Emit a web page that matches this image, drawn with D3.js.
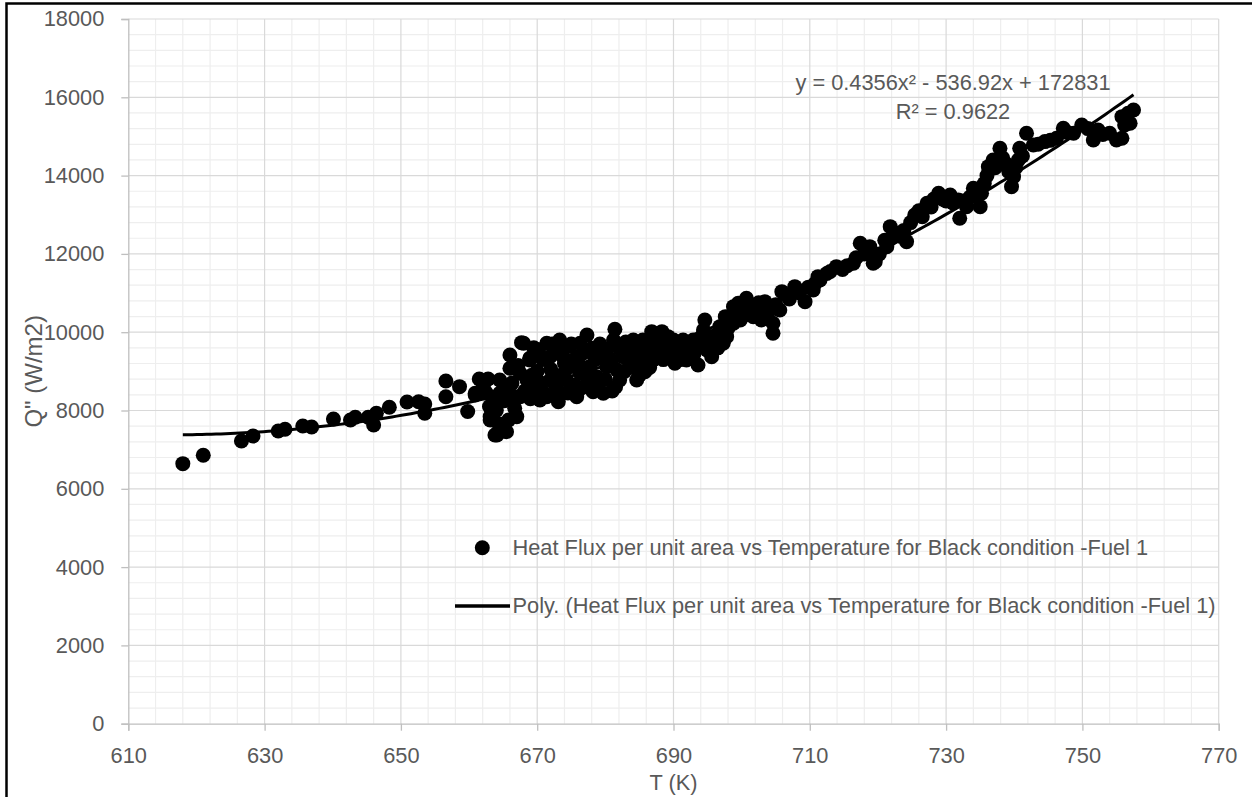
<!DOCTYPE html>
<html>
<head>
<meta charset="utf-8">
<script src="https://cdn.jsdelivr.net/npm/d3@7"></script>
<style>
  html, body { margin: 0; padding: 0; background: #fff; }
  svg { display: block; }
  text { font-family: "Liberation Sans", Arial, sans-serif; fill: #595959; }
</style>
</head>
<body>
<svg id="chart" width="1252" height="797"></svg>
<script>
// Measured temperature (K) and heat flux per unit area (W/m2), Black condition, Fuel 1
const tempK = [
  618.0, 621.0, 626.6, 628.3, 632.0, 633.0, 635.6, 636.9, 640.1, 642.6,
  643.3, 645.2, 646.0, 646.4, 648.3, 650.9, 652.6, 653.5, 653.5, 656.6,
  656.6, 658.6, 659.8, 660.9, 660.9, 661.5, 662.8, 663.6, 663.6, 663.8,
  662.1, 663.6, 663.1, 664.3, 665.5, 665.8, 666.7, 666.0, 667.7, 668.9,
  666.0, 665.8, 667.5, 668.5, 670.4, 671.4, 673.3, 671.9, 673.8, 673.1,
  671.4, 671.9, 674.3, 675.8, 676.3, 677.3, 678.0, 675.8, 678.2, 679.7,
  678.7, 680.2, 681.4, 681.2, 681.7, 682.6, 684.1, 684.6, 685.8, 683.6,
  686.8, 688.3, 689.2, 687.5, 689.0, 690.2, 691.4, 692.4, 693.6, 692.9,
  694.6, 694.4, 695.6, 695.8, 697.3, 697.8, 697.6, 698.8, 699.5, 699.8,
  700.7, 701.7, 702.9, 703.4, 704.6, 704.6, 705.9, 705.6, 707.8, 709.3,
  710.5, 711.2, 667.5, 669.9, 672.8, 676.3, 677.7, 680.2, 682.1, 686.1,
  687.0, 690.9, 691.9, 694.9, 696.8, 698.8, 701.7, 703.2, 664.5, 664.5,
  667.0, 674.8, 674.8, 663.1, 664.1, 668.0, 668.9, 711.5, 713.9, 716.4,
  717.4, 718.8, 719.6, 719.3, 721.3, 721.8, 722.8, 724.2, 725.4, 727.2,
  728.9, 730.6, 731.8, 732.0, 733.0, 734.0, 735.0, 735.2, 736.2, 736.9,
  737.9, 739.6, 739.9, 740.6, 740.8, 741.8, 742.8, 744.5, 746.2, 747.2,
  748.7, 749.9, 751.6, 752.3, 754.0, 755.0, 755.8, 755.8, 756.2, 757.0,
  757.5, 756.7,
  662.5, 663.0, 664.0, 664.8, 665.2, 666.3, 666.5, 667.2, 668.2, 669.2,
  669.5, 670.0, 670.5, 670.8, 671.0, 672.0, 672.5, 673.0, 673.5, 674.0,
  674.5, 675.0, 675.5, 676.0, 676.8, 677.0, 677.5, 678.5, 679.0, 679.2,
  680.0, 680.8, 681.5, 682.0, 682.8, 683.2, 684.0, 684.8, 685.2, 685.5,
  686.5, 687.8, 688.5, 688.8, 689.5, 690.5, 691.0, 692.0, 693.0, 693.8,
  694.2, 695.0, 696.0, 696.5, 697.0, 698.0, 698.5, 699.0, 700.0, 700.5,
  701.0, 702.0, 702.5, 703.8, 704.2, 705.0, 706.5, 707.0, 708.5, 709.8,
  710.8, 712.5, 713.0, 714.8, 715.5, 716.8, 718.0, 720.2, 721.0, 722.0,
  723.2, 723.8, 724.8, 726.0, 726.5, 727.8, 728.2, 729.5, 730.0, 731.0,
  732.5, 733.5, 734.5, 735.6, 736.0, 737.2, 738.3, 738.8, 739.2, 740.2,
  741.2, 743.5, 745.3, 747.8, 750.8, 753.0, 756.4,
  670.2, 672.2, 674.6, 676.6, 679.5, 683.0, 686.0, 688.0, 690.0, 691.5,
  669.0, 676.0, 681.0, 685.0
];
const heatFlux = [
  6642, 6856, 7222, 7349, 7477, 7520, 7605, 7579, 7783, 7758,
  7827, 7827, 7630, 7929, 8082, 8218, 8225, 8167, 7929, 8754,
  8353, 8609, 7975, 8440, 8397, 8805, 8805, 8269, 7758, 7375,
  8609, 8098, 7758, 7459, 7459, 7758, 8057, 9418, 9733, 9334,
  9078, 8568, 8353, 8780, 8269, 9717, 9802, 9375, 9375, 8225,
  8353, 8780, 8780, 8353, 9717, 9929, 9589, 9375, 8481, 8440,
  8864, 9546, 10075, 9802, 9035, 9375, 9802, 8780, 8992, 9206,
  10014, 10014, 9886, 9546, 9375, 9206, 9802, 9631, 9163, 9802,
  10313, 10057, 9375, 9802, 9717, 9886, 10397, 10652, 10739, 10313,
  10867, 10652, 10313, 10780, 9973, 10228, 11036, 10568, 11163, 10780,
  11079, 11419, 8951, 8609, 8609, 8951, 9120, 9120, 8780, 9461,
  9291, 9461, 9291, 9546, 10142, 10228, 10397, 10568, 8440, 8780,
  7843, 8524, 9120, 7843, 7375, 9717, 9291, 11334, 11674, 11761,
  12272, 12185, 11802, 11761, 12185, 12696, 12527, 12313, 12995, 13294,
  13549, 13506, 13378, 12910, 13207, 13677, 13207, 13549, 14229, 14400,
  14698, 13718, 13973, 14400, 14698, 15082, 14783, 14868, 14953, 15209,
  15082, 15294, 14911, 15166, 15082, 14911, 14953, 15506, 15294, 15337,
  15677, 15593,
  8450, 8100, 8000, 7650, 8250, 8700, 8300, 9150, 8500, 8900,
  9600, 9000, 8700, 9300, 8450, 9050, 8400, 9600, 8900, 9200,
  8450, 9700, 8650, 9200, 8600, 9500, 8800, 9300, 8700, 9700,
  8800, 9300, 8600, 9600, 9000, 9500, 9100, 9500, 9300, 9800,
  9100, 9700, 9300, 9600, 9700, 9600, 9300, 9500, 9450, 9700,
  9900, 9600, 9900, 9600, 10000, 10100, 10400, 10500, 10500, 10600,
  10450, 10550, 10750, 10450, 10650, 10700, 10950, 10850, 11000, 11150,
  11250, 11500, 11550, 11600, 11700, 11900, 12000, 12000, 12350, 12400,
  12450, 12600, 12800, 13100, 12950, 13200, 13400, 13400, 13350, 13300,
  13350, 13450, 13500, 13800, 14000, 14200, 14450, 14300, 14100, 14200,
  14500, 14800, 14900, 15100, 15200, 15050, 15450,
  9550, 9700, 9650, 9450, 9450, 9750, 9750, 9850, 9800, 9600,
  8300, 8500, 8500, 8900
];

// Axis ticks
const xTicks = [610, 630, 650, 670, 690, 710, 730, 750, 770];
const yTicks = [0, 2000, 4000, 6000, 8000, 10000, 12000, 14000, 16000, 18000];
const xMinorStep = 4;
const yMinorStep = 400;

// Second-order polynomial trendline: y = a x^2 + b x + c
const trendCoeffs = [0.4356, -536.92, 172831];
const rSquared = "0.9622";

const seriesName = "Heat Flux per unit area vs Temperature for Black condition -Fuel 1";
const trendName = "Poly. (" + seriesName + ")";
const xTitle = "T (K)";
const yTitle = "Q\" (W/m2)";

const svg = d3.select("#chart");
const W = 1252, H = 797;
const plot = { left: 128.3, right: 1218.7, top: 19, bottom: 723.7 };

const x = d3.scaleLinear().domain([xTicks[0], xTicks[xTicks.length - 1]]).range([plot.left, plot.right]);
const y = d3.scaleLinear().domain([yTicks[0], yTicks[yTicks.length - 1]]).range([plot.bottom, plot.top]);

svg.append("rect").attr("width", W).attr("height", H).attr("fill", "#fff");

// Minor gridlines
const xMinor = d3.range(x.domain()[0], x.domain()[1] + 0.001, xMinorStep).filter(v => !xTicks.includes(v));
const yMinor = d3.range(y.domain()[0], y.domain()[1] + 0.001, yMinorStep).filter(v => !yTicks.includes(v));
const grid = svg.append("g");
grid.selectAll(".xm").data(xMinor).join("line")
  .attr("x1", d => x(d)).attr("x2", d => x(d))
  .attr("y1", plot.top).attr("y2", plot.bottom)
  .attr("stroke", "#eeeeee").attr("stroke-width", 1.2);
grid.selectAll(".ym").data(yMinor).join("line")
  .attr("x1", plot.left).attr("x2", plot.right)
  .attr("y1", d => y(d)).attr("y2", d => y(d))
  .attr("stroke", "#eeeeee").attr("stroke-width", 1.2);

// Major gridlines
grid.selectAll(".xM").data(xTicks.slice(1)).join("line")
  .attr("x1", d => x(d)).attr("x2", d => x(d))
  .attr("y1", plot.top).attr("y2", plot.bottom)
  .attr("stroke", "#d9d9d9").attr("stroke-width", 1.2);
grid.selectAll(".yM").data(yTicks.slice(1)).join("line")
  .attr("x1", plot.left).attr("x2", plot.right)
  .attr("y1", d => y(d)).attr("y2", d => y(d))
  .attr("stroke", "#d9d9d9").attr("stroke-width", 1.2);

// Axes
const fontSize = 21.8;
const yAxis = svg.append("g").attr("transform", `translate(${plot.left},0)`)
  .call(d3.axisLeft(y).tickValues(yTicks).tickSize(7).tickPadding(17).tickFormat(d3.format("d")));
const xAxis = svg.append("g").attr("transform", `translate(0,${plot.bottom})`)
  .call(d3.axisBottom(x).tickValues(xTicks).tickSize(7).tickPadding(16.5).tickFormat(d3.format("d")));
[xAxis, yAxis].forEach(g => {
  g.select(".domain").attr("stroke", "#bfbfbf").attr("stroke-width", 1.3);
  g.selectAll(".tick line").attr("stroke", "#bfbfbf").attr("stroke-width", 1.3);
  g.selectAll(".tick text").attr("font-size", fontSize)
    .attr("font-family", "Liberation Sans, Arial, sans-serif").attr("fill", "#595959");
});

// Data points
const pts = tempK.map((t, i) => ({ t, q: heatFlux[i] }));
svg.append("g").selectAll("circle").data(pts).join("circle")
  .attr("cx", d => x(d.t)).attr("cy", d => y(d.q)).attr("r", 7.5)
  .attr("fill", "#000");

// Trendline over the data range
const [a, b, c] = trendCoeffs;
const poly = t => a * t * t + b * t + c;
const [tMin, tMax] = d3.extent(tempK);
const trendPts = d3.range(0, 201).map(i => {
  const t = tMin + (tMax - tMin) * i / 200;
  return [t, poly(t)];
});
svg.append("path").datum(trendPts)
  .attr("d", d3.line().x(d => x(d[0])).y(d => y(d[1])))
  .attr("fill", "none").attr("stroke", "#000").attr("stroke-width", 3);

// Trendline equation
const eq = svg.append("g").attr("font-size", fontSize).attr("text-anchor", "middle");
const eqText = eq.append("text").attr("x", 953).attr("y", 90);
eqText.append("tspan").text(`y = ${a}x`);
eqText.append("tspan").text("\u00B2");
eqText.append("tspan").text(` - ${Math.abs(b)}x + ${c}`);
eq.append("text").attr("x", 953).attr("y", 118.5).text(`R\u00B2 = ${rSquared}`);

// Legend
const lg = svg.append("g").attr("font-size", fontSize);
lg.append("circle").attr("cx", 482.3).attr("cy", 547.7).attr("r", 7.5).attr("fill", "#000");
lg.append("text").attr("x", 512.5).attr("y", 554.5).text(seriesName);
lg.append("line").attr("x1", 455).attr("x2", 510).attr("y1", 606).attr("y2", 606)
  .attr("stroke", "#000").attr("stroke-width", 3.5);
lg.append("text").attr("x", 512.5).attr("y", 613).text(trendName);

// Axis titles
svg.append("text").attr("x", (plot.left + plot.right) / 2).attr("y", 790)
  .attr("text-anchor", "middle").attr("font-size", fontSize).text(xTitle);
svg.append("text").attr("transform", `translate(42,${(plot.top + plot.bottom) / 2}) rotate(-90)`)
  .attr("text-anchor", "middle").attr("font-size", 24).text(yTitle);

// Chart frame
svg.append("path").attr("d", `M6.5,${H} V3.5 H${W}`)
  .attr("fill", "none").attr("stroke", "#000").attr("stroke-width", 2.5);
</script>
</body>
</html>
